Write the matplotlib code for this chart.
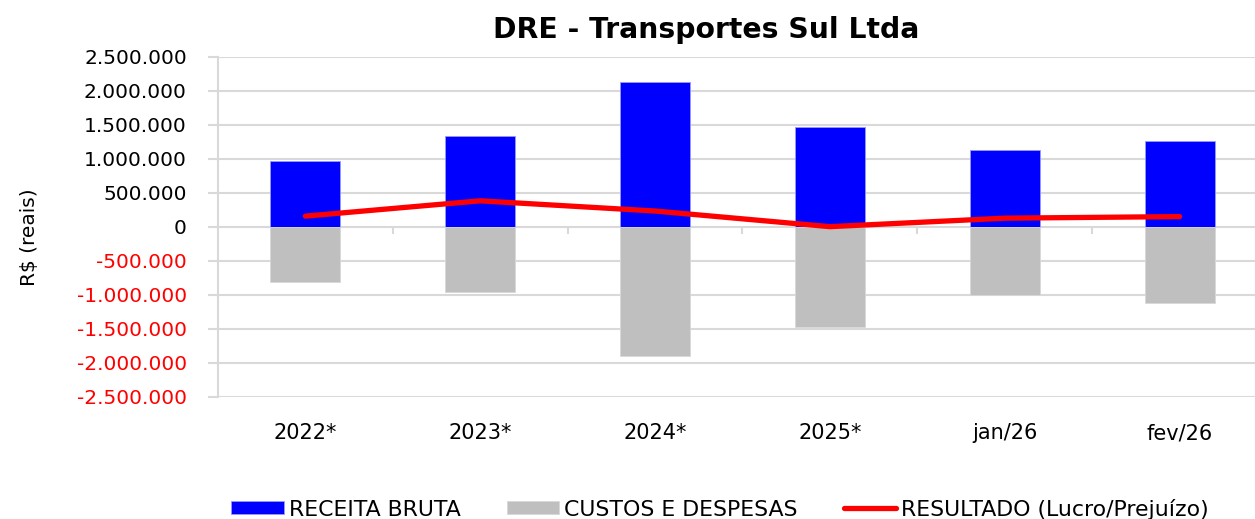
import numpy as np
import matplotlib
matplotlib.use("Agg")
import matplotlib.pyplot as plt
from matplotlib.ticker import FuncFormatter

# valores em R$
periodos = ["2022*", "2023*", "2024*", "2025*", "jan/26", "fev/26"]
receita_bruta = [970000, 1345000, 2135000, 1475000, 1135000, 1268000]
custos_despesas = [-810000, -960000, -1900000, -1470000, -1005000, -1115000]
resultado = [160000, 385000, 235000, 5000, 130000, 153000]

plt.rcParams['font.family'] = ['DejaVu Sans']

fig = plt.figure(figsize=(12.55, 5.19), dpi=100)
ax = fig.add_axes([218 / 1255, 1 - 397 / 519, 1049 / 1255, 340 / 519])

x = np.arange(len(periodos))
largura = 0.4

b1 = ax.bar(x, receita_bruta, largura, color='#0000FF', edgecolor='#9999ff', linewidth=0.6,
            label='RECEITA BRUTA', zorder=3)
b2 = ax.bar(x, custos_despesas, largura, color='#BFBFBF', edgecolor='#d9d9d9', linewidth=0.6,
            label='CUSTOS E DESPESAS', zorder=3)
l1, = ax.plot(x, resultado, color='#FF0000', linewidth=3.8, solid_capstyle='round',
              solid_joinstyle='round', label='RESULTADO (Lucro/Prejuízo)', zorder=4)

ax.set_xlim(-0.5, len(periodos) - 0.5)
ax.set_ylim(-2500000, 2500000)
ax.set_yticks(np.arange(-2500000, 2500001, 500000))
ax.yaxis.set_major_formatter(FuncFormatter(lambda v, p: f"{v:,.0f}".replace(',', '.')))
ax.grid(axis='y', color='#d9d9d9', linewidth=1.5, zorder=0)
ax.set_axisbelow(True)

for s in ['top', 'right', 'bottom']:
    ax.spines[s].set_visible(False)
ax.spines['left'].set_color('#d9d9d9')
ax.spines['left'].set_linewidth(1.5)

ax.tick_params(axis='y', colors='#d9d9d9', length=7, width=1.5, labelsize=14.5, pad=15.5)
for lbl, v in zip(ax.get_yticklabels(), ax.get_yticks()):
    lbl.set_color('#FF0000' if v < 0 else 'black')

ax.set_xticks(x)
ax.set_xticklabels(periodos)
ax.tick_params(axis='x', length=0, labelsize=15, pad=19)

# marcas de divisão das categorias sob a linha do zero
ax.vlines(x[:-1] + 0.5, -110000, 0, color='#d9d9d9', linewidth=1.5, zorder=1)

ax.set_ylabel('R$ (reais)', fontsize=14.5)
ax.yaxis.set_label_coords(-179 / 1049, 0.47)

fig.text(706 / 1255, 1 - 30 / 519, 'DRE - Transportes Sul Ltda', ha='center', va='center',
         fontsize=20.3, fontweight='bold')

fig.legend(handles=[b1, b2, l1], loc='center', bbox_to_anchor=(720 / 1255, 1 - 509 / 519),
           ncol=3, frameon=False, fontsize=15.8, handlelength=2.4, handleheight=0.55,
           handletextpad=0.22, columnspacing=2.1, borderpad=0)

fig.savefig('out.png', dpi=100)
